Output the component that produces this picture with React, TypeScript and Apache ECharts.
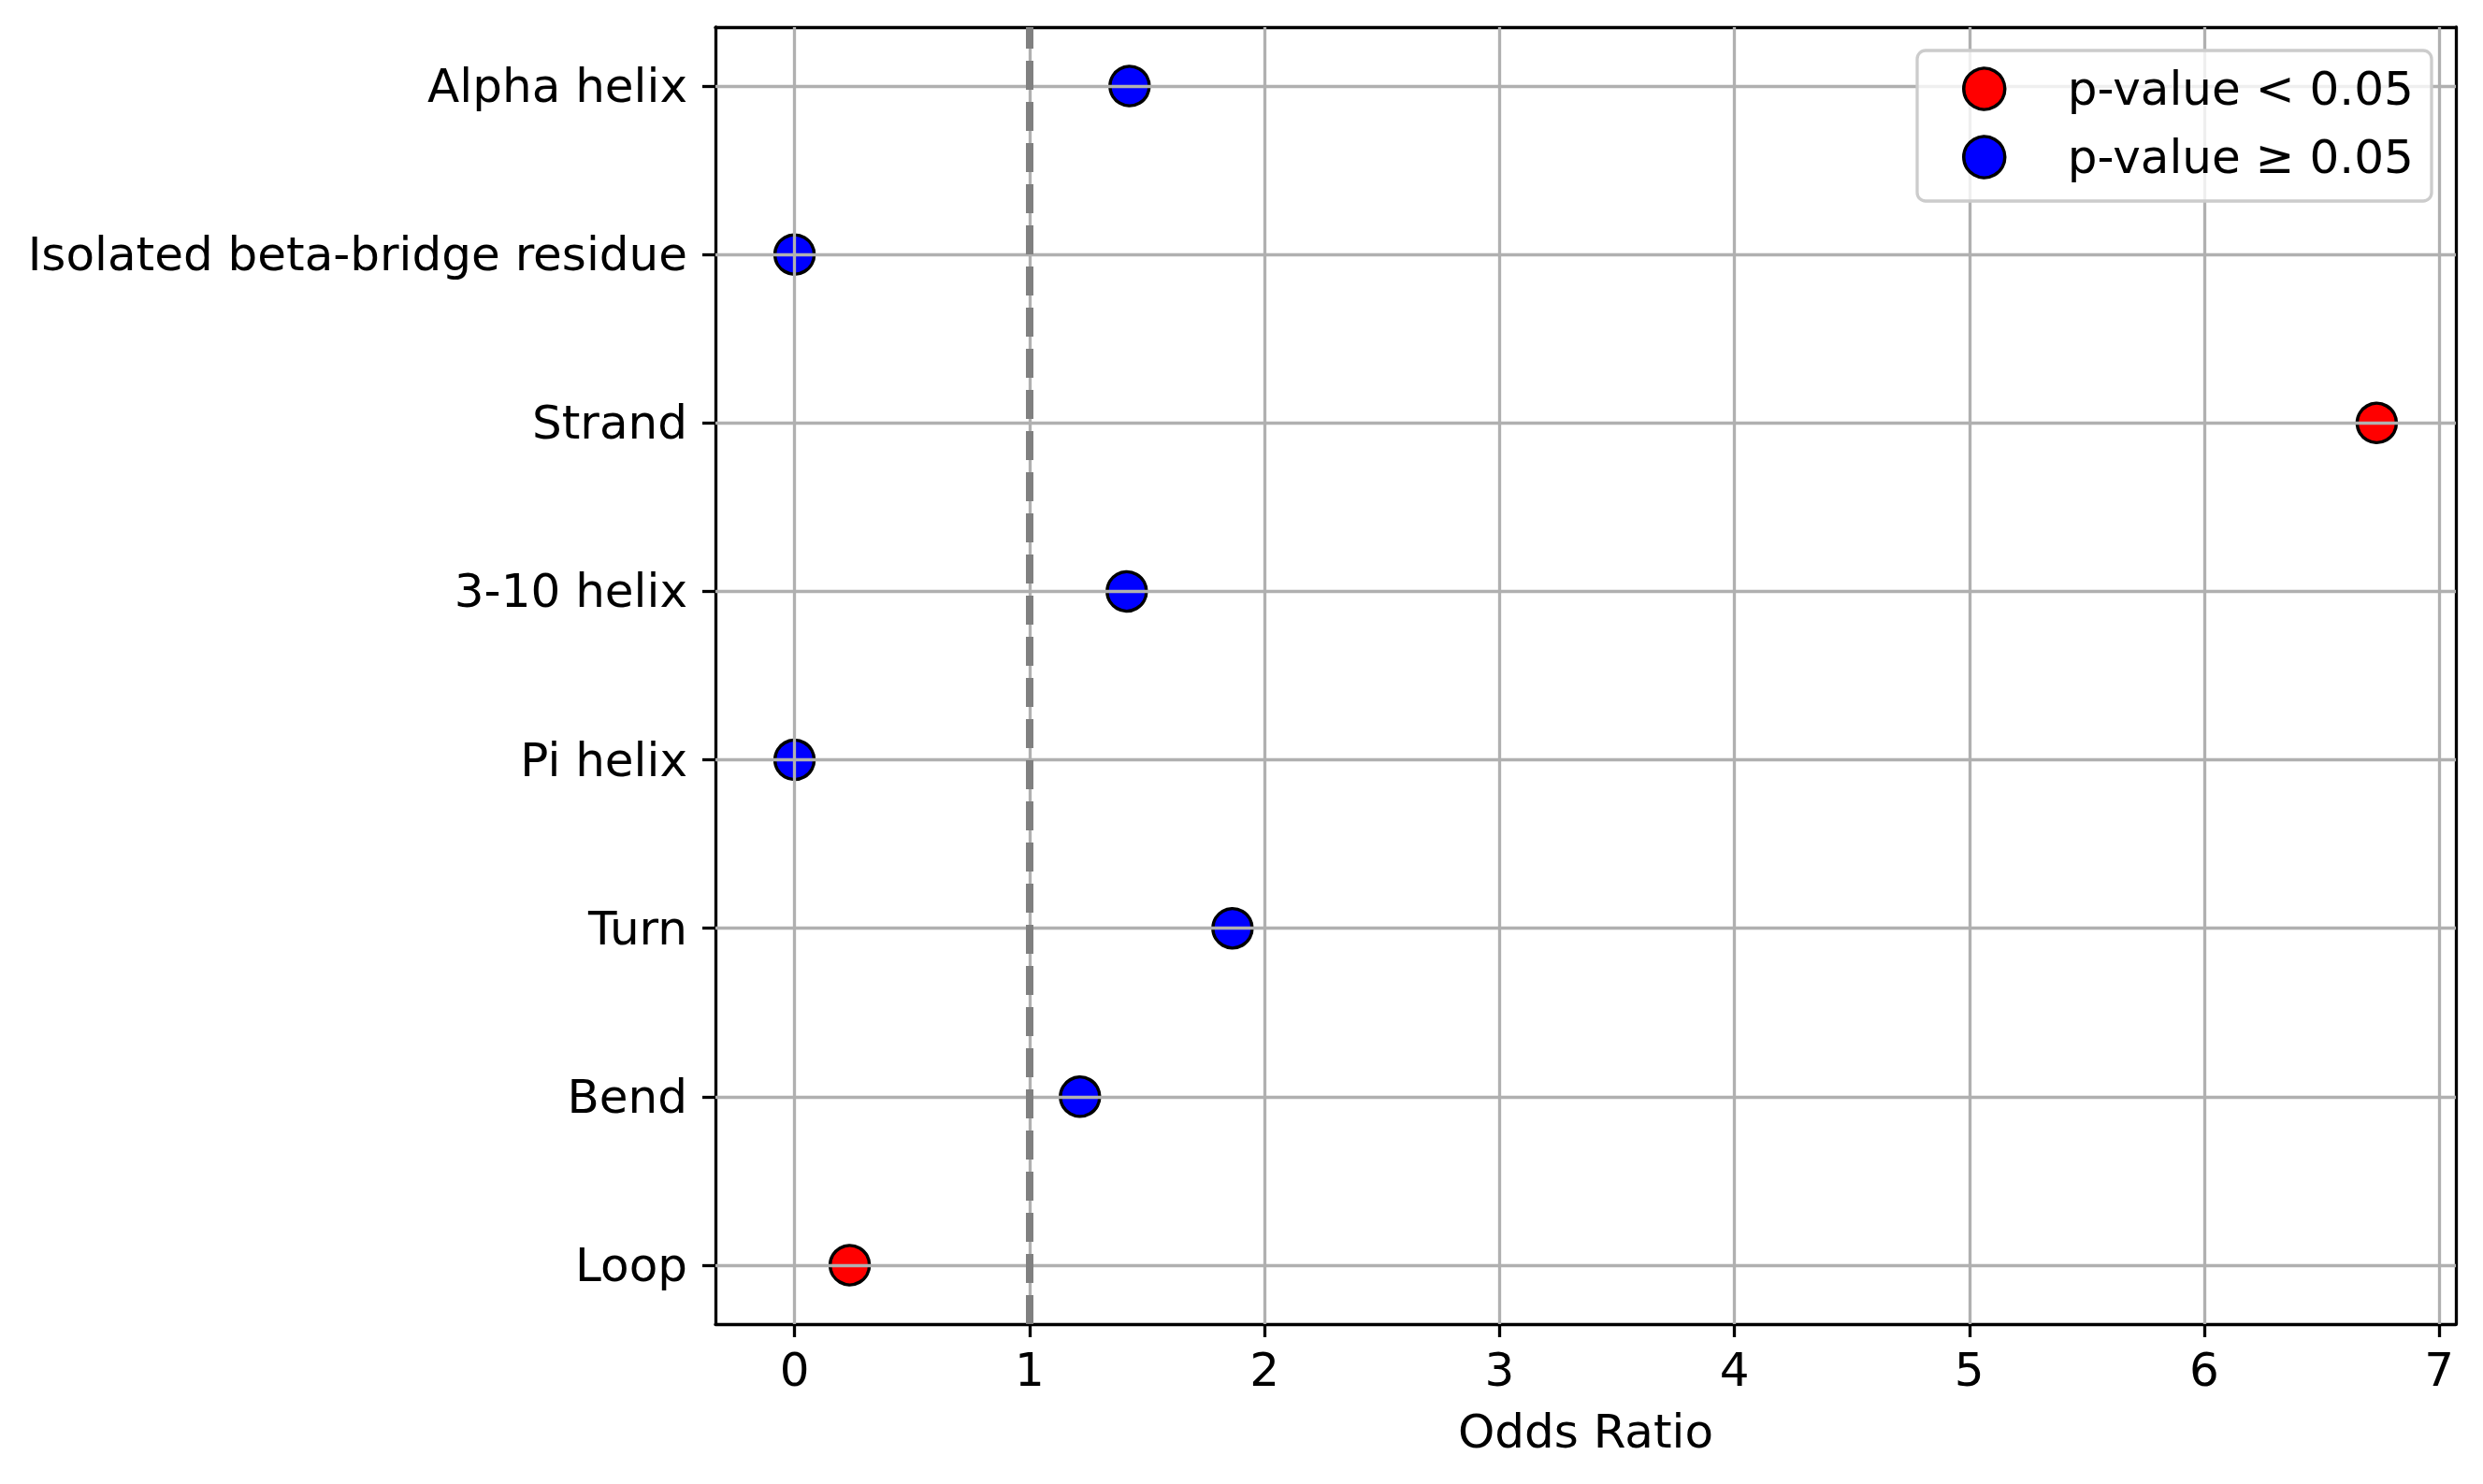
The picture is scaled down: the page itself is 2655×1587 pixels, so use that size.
import React, { useEffect, useRef } from "react";
import * as echarts from "echarts";

// Categories from bottom (y = 0) to top
const categories = [
  "Loop",
  "Bend",
  "Turn",
  "Pi helix",
  "3-10 helix",
  "Strand",
  "Isolated beta-bridge residue",
  "Alpha helix",
];
const oddsRatios = [0.235, 1.215, 1.864, 0.0, 1.414, 6.734, 0.0, 1.426];
const significant = [true, false, false, false, false, true, false, false];
const xTicks = [0, 1, 2, 3, 4, 5, 6, 7];
const referenceLine = 1;
const legendNames = ["p-value < 0.05", "p-value \u2265 0.05"];

const FONT = "DejaVu Sans";

export default function App() {
  const ref = useRef<HTMLDivElement>(null);
  useEffect(() => {
    if (!ref.current) return;
    const chart = echarts.init(ref.current, null, { renderer: "svg" });
    const xmax = Math.max(...oddsRatios);
    const xmin = Math.min(...oddsRatios);
    const pad = (xmax - xmin) * 0.05;
    const yTicks = categories.map((_, i) => i);
    const sigData = oddsRatios
      .map((v, i) => (significant[i] ? [v, i] : null))
      .filter((d) => d !== null);
    const nsData = oddsRatios
      .map((v, i) => (!significant[i] ? [v, i] : null))
      .filter((d) => d !== null);
    const gridStyle = { color: "#b0b0b0", width: 3.3, type: "solid" };
    const markData: any[] = [
      ...xTicks.map((t) => ({ xAxis: t, lineStyle: gridStyle })),
      ...yTicks.map((t) => ({ yAxis: t, lineStyle: gridStyle })),
      {
        xAxis: referenceLine,
        lineStyle: { color: "#808080", width: 8, type: [31, 13] },
      },
    ];
    const markerStyle = (color: string) => ({
      color,
      borderColor: "#000000",
      borderWidth: 3.5,
      opacity: 1,
    });
    chart.setOption({
      animation: false,
      textStyle: { fontFamily: FONT },
      grid: { left: 765, right: 29, top: 29, bottom: 171, containLabel: false },
      xAxis: [
        {
          type: "value",
          min: xmin - pad,
          max: xmax + pad,
          name: "Odds Ratio",
          nameLocation: "middle",
          nameGap: 90,
          nameTextStyle: { fontSize: 50, color: "#000", fontFamily: FONT },
          axisLine: { show: true, onZero: false, lineStyle: { color: "#000", width: 3.3 } },
          axisTick: { show: true, length: 14, lineStyle: { color: "#000", width: 3.3 }, customValues: xTicks },
          axisLabel: { show: true, fontSize: 50, color: "#000", margin: 24, fontFamily: FONT, customValues: xTicks },
          splitLine: { show: false },
        },
        {
          type: "value",
          position: "top",
          min: xmin - pad,
          max: xmax + pad,
          axisLine: { show: true, onZero: false, lineStyle: { color: "#000", width: 3.3 } },
          axisTick: { show: false },
          axisLabel: { show: false },
          splitLine: { show: false },
        },
      ],
      yAxis: [
        {
          type: "value",
          min: -0.35,
          max: categories.length - 1 + 0.35,
          axisLine: { show: true, onZero: false, lineStyle: { color: "#000", width: 3.3 } },
          axisTick: { show: true, length: 14, lineStyle: { color: "#000", width: 3.3 }, customValues: yTicks },
          axisLabel: {
            show: true,
            fontSize: 50,
            color: "#000",
            margin: 30,
            fontFamily: FONT,
            customValues: yTicks,
            formatter: (v: number) => categories[Math.round(v)] ?? "",
          },
          splitLine: { show: false },
        },
        {
          type: "value",
          position: "right",
          min: -0.35,
          max: categories.length - 1 + 0.35,
          axisLine: { show: true, onZero: false, lineStyle: { color: "#000", width: 3.3 } },
          axisTick: { show: false },
          axisLabel: { show: false },
          splitLine: { show: false },
        },
      ],
      legend: {
        data: legendNames,
        orient: "vertical",
        left: 2098,
        top: 70,
        padding: 0,
        itemWidth: 44,
        itemHeight: 44,
        itemGap: 23,
        icon: "circle",
        z: 20,
        textStyle: { fontSize: 50, color: "#000", fontFamily: FONT, padding: [0, 0, 0, 62] },
        itemStyle: { borderColor: "#000", borderWidth: 3.5 },
        selectedMode: false,
      },
      graphic: [
        {
          type: "rect",
          z: 15,
          shape: { x: 2050, y: 54, width: 550, height: 161, r: 9 },
          style: { fill: "rgba(255,255,255,0.8)", stroke: "#cccccc", lineWidth: 3.3 },
          silent: true,
        },
      ],
      series: [
        {
          name: legendNames[0],
          type: "scatter",
          data: sigData,
          symbol: "circle",
          symbolSize: 42,
          itemStyle: markerStyle("#ff0000"),
          z: 2,
        },
        {
          name: legendNames[1],
          type: "scatter",
          data: nsData,
          symbol: "circle",
          symbolSize: 42,
          itemStyle: markerStyle("#0000ff"),
          z: 2,
          markLine: {
            silent: true,
            symbol: "none",
            label: { show: false },
            animation: false,
            data: markData,
          },
        },
      ],
    });
    return () => chart.dispose();
  }, []);
  return (
    <div
      ref={ref}
      style={{ position: "absolute", left: 0, top: 0, width: 2655, height: 1587, background: "#fff" }}
    />
  );
}
